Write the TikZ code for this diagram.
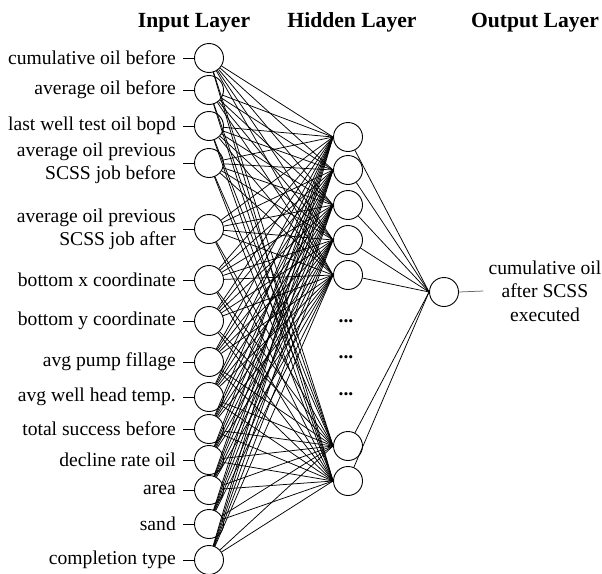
\documentclass[tikz,border=0pt]{standalone}
\usepackage{fontspec}
\setmainfont{Liberation Serif}
\usepackage{tikz}
\usetikzlibrary{arrows.meta,calc}

\begin{document}
\begin{tikzpicture}[x=1pt,y=-1pt,
        neuron/.style={circle,draw,line width=0.9pt,minimum size=29pt,inner sep=0pt},
        feat/.style={anchor=east,align=right,inner xsep=7pt,inner ysep=0pt,font=\fontsize{19.6}{23}\selectfont},
        layer/.style={anchor=base,inner sep=0pt,font=\fontsize{21.6}{24}\selectfont\bfseries},
        wire/.style={line width=0.75pt}]
        \useasboundingbox (0,0) rectangle (602,573);

        \node[layer] (inlayer) at (194,27) {Input Layer};
        \node[layer] (hidlayer) at (352,27) {Hidden Layer};
        \node[layer] (outlayer) at (535,27) {Output Layer};

        \node[neuron] (i1) at (209,58) {};
        \node[neuron] (i2) at (209,90) {};
        \node[neuron] (i3) at (209,126) {};
        \node[neuron] (i4) at (209,163) {};
        \node[neuron] (i5) at (209,229) {};
        \node[neuron] (i6) at (209,280) {};
        \node[neuron] (i7) at (209,321) {};
        \node[neuron] (i8) at (209,362) {};
        \node[neuron] (i9) at (209,397) {};
        \node[neuron] (i10) at (209,429) {};
        \node[neuron] (i11) at (209,460) {};
        \node[neuron] (i12) at (209,490) {};
        \node[neuron] (i13) at (209,524) {};
        \node[neuron] (i14) at (209,560) {};

        \node[feat] (f1) at (183,58) {cumulative oil before};
        \node[feat] (f2) at (183,90) {average oil before};
        \node[feat] (f3) at (183,126) {last well test oil bopd};
        \node[feat] (f4) at (183,163) {average oil previous\\SCSS job before};
        \node[feat] (f5) at (183,229) {average oil previous\\SCSS job after};
        \node[feat] (f6) at (183,280) {bottom x coordinate};
        \node[feat] (f7) at (183,321) {bottom y coordinate};
        \node[feat] (f8) at (183,362) {avg pump fillage};
        \node[feat] (f9) at (183,397) {avg well head temp.};
        \node[feat] (f10) at (183,429) {total success before};
        \node[feat] (f11) at (183,460) {decline rate oil};
        \node[feat] (f12) at (183,490) {area};
        \node[feat] (f13) at (183,524) {sand};
        \node[feat] (f14) at (183,560) {completion type};

        \node[neuron] (h1) at (348,137) {};
        \node[neuron] (h2) at (348,170) {};
        \node[neuron] (h3) at (348,205) {};
        \node[neuron] (h4) at (348,240) {};
        \node[neuron] (h5) at (348,275) {};
        \node[neuron] (h6) at (348,446) {};
        \node[neuron] (h7) at (348,481) {};

        \node[layer,font=\fontsize{19.6}{23}\selectfont\bfseries] (dots1) at (346,322) {...};
        \node[layer,font=\fontsize{19.6}{23}\selectfont\bfseries] (dots2) at (346,358) {...};
        \node[layer,font=\fontsize{19.6}{23}\selectfont\bfseries] (dots3) at (346,395) {...};

        \node[neuron] (out) at (444,292) {};
        \node[align=center,inner xsep=5pt,inner ysep=0pt,font=\fontsize{19.6}{23.5}\selectfont] (target) at (545,291) {cumulative oil\\after SCSS\\executed};

        \foreach \i in {1,...,14} {
            \draw[wire] (f\i.east) -- (i\i.west);
            \foreach \h in {1,...,7}
                \draw[wire] (i\i) -- (h\h.west);
        }
        \foreach \h in {1,...,7}
            \draw[wire] (h\h) -- (out.west);
        \draw[wire,black!60] (out.east) -- (target.west);
      \end{tikzpicture}
\end{document}
